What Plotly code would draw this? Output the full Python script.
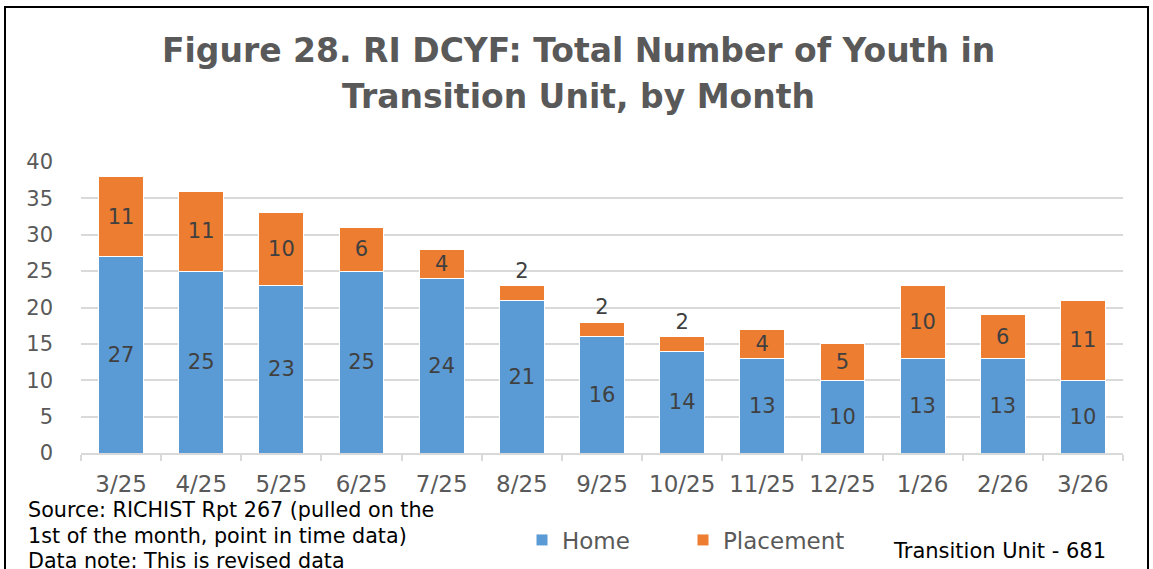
import plotly.graph_objects as go

months = ["3/25", "4/25", "5/25", "6/25", "7/25", "8/25", "9/25", "10/25",
          "11/25", "12/25", "1/26", "2/26", "3/26"]
home = [27, 25, 23, 25, 24, 21, 16, 14, 13, 10, 13, 13, 10]
placement = [11, 11, 10, 6, 4, 2, 2, 2, 4, 5, 10, 6, 11]

W, H = 1153, 569
L, R, T, B = 81, 30, 162, 116
pw, ph = W - L - R, H - T - B

def px_x(p):
    return (p - L) / pw

def px_y(p):
    return (H - B - p) / ph

FONT = "DejaVu Sans"
label_color = "#404040"
grey = "#595959"

fig = go.Figure()
fig.add_trace(go.Bar(
    x=months, y=home, name="Home",
    marker=dict(color="#5B9BD5", line=dict(color="white", width=1)),
    text=home, textposition="inside", insidetextanchor="middle", textangle=0,
    textfont=dict(family=FONT, size=21, color=label_color),
    constraintext="none", cliponaxis=False, width=0.56,
))
fig.add_trace(go.Bar(
    x=months, y=placement, name="Placement",
    marker=dict(color="#ED7D31", line=dict(color="white", width=1)),
    text=placement,
    textposition=["outside" if v <= 2 else "inside" for v in placement],
    insidetextanchor="middle", textangle=0,
    textfont=dict(family=FONT, size=21, color=label_color),
    constraintext="none", cliponaxis=False, width=0.56,
))

fig.update_layout(
    barmode="stack",
    width=W, height=H,
    margin=dict(l=L, r=R, t=T, b=B, autoexpand=False),
    paper_bgcolor="white", plot_bgcolor="white",
    font=dict(family=FONT, color=grey),
    uniformtext=dict(minsize=21, mode="show"),
    showlegend=True,
    legend=dict(
        orientation="h", x=px_x(522), y=px_y(540), xanchor="left", yanchor="middle",
        font=dict(family=FONT, size=23, color=grey),
        entrywidth=116, entrywidthmode="pixels", traceorder="normal",
    ),
)

fig.update_xaxes(
    showline=True, linecolor="#d9d9d9", linewidth=1.5,
    ticks="outside", tickson="boundaries", ticklen=6, tickcolor="#d9d9d9",
    tickwidth=1.5, tickfont=dict(family=FONT, size=23, color=grey),
    ticklabelstandoff=10, showgrid=False, automargin=False,
)
fig.update_yaxes(
    range=[0, 40], dtick=5, showgrid=True, gridcolor="#d9d9d9", gridwidth=1.5,
    zeroline=False, showline=False, ticks="", automargin=False,
    tickfont=dict(family=FONT, size=21, color=grey), ticklabelstandoff=27,
)

title_lines = ["Figure 28. RI DCYF: Total Number of Youth in",
               "Transition Unit, by Month"]
for line, yy in zip(title_lines, [50, 97]):
    fig.add_annotation(text="<b>" + line + "</b>", xref="paper", yref="paper",
                       x=px_x(578), y=px_y(yy), xanchor="center", yanchor="middle",
                       showarrow=False, font=dict(family=FONT, size=33, color=grey))

src_lines = ["Source: RICHIST Rpt 267 (pulled on the",
             "1st of the month, point in time data)",
             "Data note: This is revised data"]
for line, yy in zip(src_lines, [510, 536, 561]):
    fig.add_annotation(text=line, xref="paper", yref="paper",
                       x=px_x(26), y=px_y(yy), xanchor="left", yanchor="middle",
                       showarrow=False, font=dict(family=FONT, size=20.7, color="black"))
fig.add_annotation(text="Transition Unit - 681", xref="paper", yref="paper",
                   x=px_x(891), y=px_y(551), xanchor="left", yanchor="middle",
                   showarrow=False, font=dict(family=FONT, size=21, color="black"))

fig.add_shape(type="rect", xref="paper", yref="paper",
              x0=px_x(5), x1=px_x(1148), y0=px_y(7), y1=px_y(620),
              line=dict(color="black", width=2), layer="above")

fig.write_html("out.html", config={"displayModeBar": False},
               post_script="document.body.style.margin='0';document.body.style.overflow='hidden';")
